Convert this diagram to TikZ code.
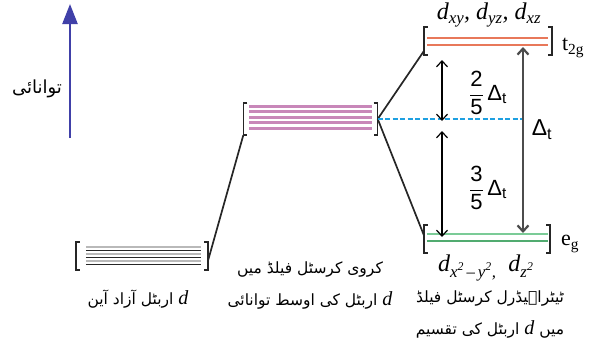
\documentclass[tikz,border=0pt]{standalone}
\usepackage{fontspec}
\setmainfont{Liberation Serif}
\newfontfamily\urdu[Script=Arabic]{DejaVu Sans}
\newfontfamily\sfgreek{Liberation Sans}
\TeXXeTstate=1
\usetikzlibrary{arrows.meta,calc,positioning}

\definecolor{energyblue}{RGB}{64,64,168}
\definecolor{sphpink}{RGB}{200,135,185}
\definecolor{tred}{RGB}{232,120,90}
\definecolor{egreen}{RGB}{90,190,125}
\definecolor{barycyan}{RGB}{30,160,225}

\tikzstyle{level}=[rectangle, inner sep=0pt]
\tikzstyle{bracket}=[line width=1.5pt, black!85]
\tikzstyle{link}=[line width=1.7pt, black!85]
\tikzstyle{split}=[line width=1.2pt,
    {Straight Barb[length=6pt,width=11pt]}-{Straight Barb[length=6pt,width=11pt]}]
\tikzstyle{urdutext}=[font=\urdu\fontsize{15.5}{32}\selectfont, align=center, inner sep=0pt]
\tikzstyle{frac}=[font=\sfgreek\fontsize{22}{24}\selectfont, inner sep=0pt]

\newcommand{\lvlbrackets}[1]{%
  \draw[bracket] ([xshift=4pt]#1.north west) -- (#1.north west)
    -- (#1.south west) -- ([xshift=4pt]#1.south west);
  \draw[bracket] ([xshift=-4pt]#1.north east) -- (#1.north east)
    -- (#1.south east) -- ([xshift=-4pt]#1.south east);
}
\newcommand{\dt}{\sfgreek Δ\textsubscript{t}}

\begin{document}
\begin{tikzpicture}[x=1pt,y=-1pt]

  \useasboundingbox (0,0) rectangle (596,359);

  % energy axis
  \coordinate (elow) at (70,138);
  \coordinate (ehigh) at (70,4);
  \draw[energyblue, line width=2.4pt, -{Triangle[length=20pt,width=15pt]}] (elow) -- (ehigh);
  \node (enlabel) [urdutext, font=\urdu\fontsize{18}{20}\selectfont] at (37,89) {\beginR توانائی\endR};

  % levels
  \node (free) [level, minimum width=132pt, minimum height=28pt] at (142,256) {};
  \node (mid) [level, minimum width=134pt, minimum height=32pt] at (310.5,119) {};
  \node (t2g) [level, minimum width=128pt, minimum height=28pt] at (488,41) {};
  \node (eg) [level, minimum width=126pt, minimum height=28pt] at (487,239) {};

  \lvlbrackets{free}
  \lvlbrackets{mid}
  \lvlbrackets{t2g}
  \lvlbrackets{eg}

  \foreach \dy/\c in {-9/gray!55,-5.5/black!85,-2/gray!55,1.5/black!85,5/gray!55,8.5/black!85}
    \draw[line width=1.6pt, \c] ($(free.west)+(10,\dy)$) -- ($(free.east)+(-7,\dy)$);
  \foreach \dy in {-13,-7.5,-2,3.5,9}
    \draw[line width=3pt, sphpink] ($(mid.west)+(6,\dy)$) -- ($(mid.east)+(-6,\dy)$);
  \foreach \dy in {-3,4}
    \draw[line width=1.7pt, tred] ($(t2g.west)+(3,\dy)$) -- ($(t2g.east)+(-4,\dy)$);
  \draw[line width=2.6pt, egreen!80] ($(eg.west)+(3,-5)$) -- ($(eg.east)+(-2,-5)$);
  \draw[line width=1.5pt, egreen!90!black] ($(eg.west)+(3,2)$) -- ($(eg.east)+(-2,2)$);

  % connectors
  \draw[link] ($(free.east)+(0,4)$) -- (mid.south west);
  \draw[link] (mid.east) -- ($(t2g.south west)+(0,-4)$);
  \draw[link] (mid.east) -- ($(eg.west)+(0,-4)$);

  \coordinate (bary) at (523,119);
  \draw[barycyan, line width=2.4pt, dash pattern=on 5pt off 2.5pt] (mid.east) -- (bary);

  % splitting
  \coordinate (up1) at (442,60);
  \coordinate (up2) at (442,121);
  \coordinate (lo1) at (442,131);
  \coordinate (lo2) at (442,237);
  \coordinate (dt1) at (523,47);
  \coordinate (dt2) at (523,233);
  \draw[split] (up1) -- (up2);
  \draw[split] (lo1) -- (lo2);
  \draw[split, line width=2.2pt, black!70] (dt1) -- (dt2);

  \node (twofifth) [frac] at (488,93) {$\displaystyle\frac{\hbox{2}}{\hbox{5}}$\,\dt};
  \node (threefifth) [frac] at (488,188) {$\displaystyle\frac{\hbox{3}}{\hbox{5}}$\,\dt};
  \node (dtlabel) [frac, font=\sfgreek\fontsize{23}{24}\selectfont] at (542,130) {\dt};

  % labels
  \node (t2glabel) [font=\fontsize{22}{24}\selectfont, inner sep=0pt] at (573,48) {t\textsubscript{2g}};
  \node (eglabel) [font=\fontsize{22}{24}\selectfont, inner sep=0pt] at (570,244) {e\textsubscript{g}};
  \node (t2gorb) [font=\fontsize{24}{26}\selectfont\itshape, inner sep=0pt] at (489,15)
    {d\textsubscript{xy}, d\textsubscript{yz}, d\textsubscript{xz}};
  \node (egorb) [font=\fontsize{24}{26}\selectfont\itshape, inner sep=0pt] at (486,268)
    {d\textsubscript{x\textsuperscript{2}\,–\,y\textsuperscript{2},}\ \ d\textsubscript{z\textsuperscript{2}}};

  \node (freetext) [urdutext] at (138,299)
    {\beginR\beginL{\rmfamily\itshape\fontsize{20}{20}\selectfont d}\endL{} اربٹل آزاد آین\endR};
  \node (midtext) [urdutext] at (310,285)
    {\beginR کروی کرسٹل فیلڈ میں\endR\\
     \beginR\beginL{\rmfamily\itshape\fontsize{20}{20}\selectfont d}\endL{} اربٹل کی اوسط توانائی\endR};
  \node (righttext) [urdutext] at (490,314)
    {\beginR ٹیٹراہیڈرل کرسٹل فیلڈ\endR\\
     \beginR میں \beginL{\rmfamily\itshape\fontsize{20}{20}\selectfont d}\endL{} اربٹل کی تقسیم\endR};

\end{tikzpicture}
\end{document}
